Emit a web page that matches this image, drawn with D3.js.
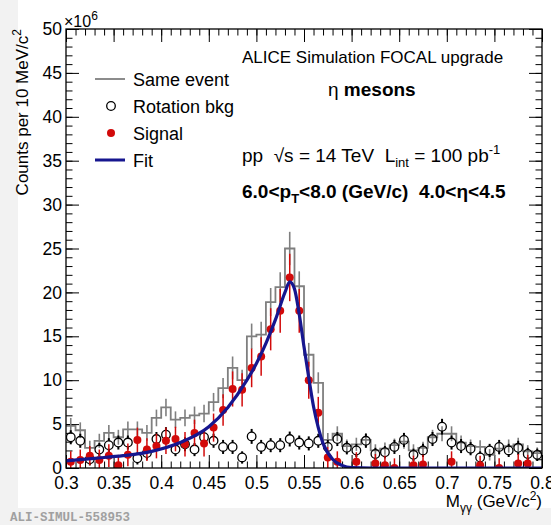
<!DOCTYPE html>
<html>
<head>
<meta charset="utf-8">
<script src="https://cdn.jsdelivr.net/npm/d3@7"></script>
<style>
body { margin: 0; background: #f2f2f2; }
text { font-family: "Liberation Sans", Arial, Helvetica, sans-serif; white-space: pre; }
</style>
</head>
<body>
<svg id="svg" width="551" height="525"></svg>
<script>
// bin lower edges, M_gg in GeV/c^2 (10 MeV bins)
var binLow = [0.30,0.31,0.32,0.33,0.34,0.35,0.36,0.37,0.38,0.39,
              0.40,0.41,0.42,0.43,0.44,0.45,0.46,0.47,0.48,0.49,
              0.50,0.51,0.52,0.53,0.54,0.55,0.56,0.57,0.58,0.59,
              0.60,0.61,0.62,0.63,0.64,0.65,0.66,0.67,0.68,0.69,
              0.70,0.71,0.72,0.73,0.74,0.75,0.76,0.77,0.78,0.79];

// counts x10^6
var sameEvent = [4.8,4.3,2.3,3.1,4.0,3.5,4.4,4.4,4.0,5.7,
                 6.9,5.5,5.7,6.0,6.2,7.5,9.1,11.4,10.0,15.0,
                 15.2,18.9,20.6,25.0,20.7,12.9,9.7,3.2,3.9,2.5,
                 2.7,3.2,2.0,2.2,2.6,3.0,2.0,2.3,3.5,3.9,
                 3.9,2.9,2.5,2.4,1.5,2.2,2.5,2.7,1.9,1.7];
var sameErr = [0.9,0.9,0.8,0.8,0.9,0.85,0.9,0.9,0.9,0.95,
               1.0,0.95,0.95,1.0,1.0,1.05,1.15,1.3,1.2,1.45,
               1.45,1.6,1.7,1.9,1.7,1.35,1.2,0.8,0.85,0.75,
               0.75,0.8,0.7,0.7,0.75,0.8,0.7,0.7,0.85,0.85,
               0.85,0.8,0.75,0.75,0.65,0.7,0.75,0.75,0.7,0.65];

var rotBkg = [3.5,3.1,1.0,2.1,2.6,2.9,2.9,1.1,1.7,3.3,
              3.8,2.1,2.7,2.1,3.5,3.1,2.4,2.4,1.2,3.6,
              2.4,2.6,2.6,3.3,2.9,2.8,3.1,2.4,3.3,2.3,
              2.0,3.1,1.6,1.8,2.4,3.2,1.5,2.0,3.3,4.7,
              2.9,2.5,2.2,1.2,2.0,2.4,2.0,2.3,1.6,1.5];
var rotErr = [0.8,0.8,0.7,0.75,0.8,0.8,0.8,0.7,0.75,0.8,
              0.85,0.75,0.8,0.75,0.8,0.8,0.8,0.8,0.7,0.85,
              0.8,0.8,0.8,0.85,0.8,0.8,0.8,0.8,0.8,0.75,
              0.75,0.8,0.7,0.7,0.8,0.8,0.7,0.75,0.8,0.9,
              0.8,0.8,0.75,0.7,0.75,0.8,0.75,0.8,0.7,0.7];

// null = below the axis, not shown
var signal = [0.7,0.9,1.4,0.9,1.4,0.3,1.5,3.2,2.1,2.5,
              3.1,3.3,2.7,4.0,2.8,4.6,6.6,9.0,8.9,11.4,
              12.7,15.8,17.9,21.7,17.9,10.0,6.3,1.2,0.7,null,
              0.7,null,0.5,0.3,0.0,null,0.3,0.4,null,null,
              0.7,null,null,0.3,null,0.0,null,0.5,0.5,null];
var sigErr = [1.2,1.2,1.1,1.2,1.3,1.2,1.3,1.4,1.3,1.4,
              1.5,1.4,1.4,1.5,1.5,1.6,1.8,2.0,1.9,2.2,
              2.2,2.4,2.5,2.7,2.5,2.1,1.8,1.2,1.2,1.1,
              1.1,1.2,1.1,1.1,1.1,1.2,1.1,1.1,1.2,1.3,
              1.2,1.2,1.1,1.1,1.0,1.1,1.1,1.1,1.0,1.0];

// fit curve
var fitX = [0.30,0.33,0.36,0.39,0.42,0.45,0.47,0.49,0.50,0.51,0.52,0.53,0.535,
            0.54,0.545,0.55,0.555,0.56,0.565,0.57,0.58,0.59,0.60,0.62,0.70,0.80];
var fitY = [0.8,1.1,1.4,1.9,2.9,4.7,6.9,10.0,11.9,14.2,16.9,20.0,21.2,
            20.4,17.5,13.8,10.3,7.0,4.6,2.8,1.0,0.3,0.05,0,0,0];

var xMajor = [0.3,0.35,0.4,0.45,0.5,0.55,0.6,0.65,0.7,0.75,0.8];
var yMajor = [0,5,10,15,20,25,30,35,40,45,50];

var legendNames = ["Same event", "Rotation bkg", "Signal", "Fit"];

var grey = "#7f7f7f", red = "#d20a0a", blue = "#16168f";

var svg = d3.select("#svg");
svg.append("rect").attr("x", 18).attr("y", 0).attr("width", 533).attr("height", 508).attr("fill", "white");

var x = d3.scaleLinear().domain([0.3, 0.8]).range([66, 542]);
var y = d3.scaleLinear().domain([0, 50]).range([468, 29]);

// axes, ticks pointing inwards like ROOT
function minorVals(a, b, step) {
    var out = [];
    for (var v = a; v <= b + 1e-9; v += step) out.push(+v.toFixed(3));
    return out;
}
var xMinor = minorVals(0.3, 0.8, 0.01);
var yMinor = minorVals(0, 50, 1);

function axis(fn, scale, minor, major, fmt, tx, ty) {
    var g = svg.append("g").attr("transform", "translate(" + tx + "," + ty + ")");
    g.append("g").call(fn(scale).tickValues(minor).tickSize(-6.5).tickFormat(""));
    var m = g.append("g").call(fn(scale).tickValues(major).tickSize(-13).tickPadding(fmt ? 9 : 0)
        .tickFormat(fmt || ""));
    g.selectAll(".domain").remove();
    g.selectAll("line").attr("stroke", "black").attr("stroke-width", 1);
    return m;
}
var xb = axis(d3.axisBottom, x, xMinor, xMajor, function(d) { return String(+d.toFixed(2)); }, 0, 468);
xb.selectAll("text").attr("font-size", 17.5).attr("fill", "black");
axis(d3.axisTop, x, xMinor, xMajor, null, 0, 29);
var yl = axis(d3.axisLeft, y, yMinor, yMajor, function(d) { return d; }, 66, 0);
yl.selectAll("text").attr("font-size", 17.5).attr("fill", "black").attr("dx", 5);
axis(d3.axisRight, y, yMinor, yMajor, null, 542, 0);

svg.append("defs").append("clipPath").attr("id", "clip")
    .append("rect").attr("x", 66).attr("y", 29).attr("width", 476).attr("height", 439);
var plot = svg.append("g").attr("clip-path", "url(#clip)");

// same event histogram
var steps = binLow.map(function(b, i) { return [b, sameEvent[i]]; });
steps.push([0.8, sameEvent[sameEvent.length - 1]]);
plot.append("path").datum(steps)
    .attr("d", d3.line().x(function(d) { return x(d[0]); }).y(function(d) { return y(d[1]); }).curve(d3.curveStepAfter))
    .attr("fill", "none").attr("stroke", grey).attr("stroke-width", 1.8);
plot.selectAll(".seerr").data(binLow).enter().append("line")
    .attr("x1", function(d) { return x(d + 0.005); }).attr("x2", function(d) { return x(d + 0.005); })
    .attr("y1", function(d, i) { return y(sameEvent[i] - sameErr[i]); })
    .attr("y2", function(d, i) { return y(sameEvent[i] + sameErr[i]); })
    .attr("stroke", grey).attr("stroke-width", 1.6);

// rotation background
var r = 4.3;
var rot = plot.selectAll(".rot").data(binLow).enter().append("g");
rot.append("line")
    .attr("x1", function(d) { return x(d + 0.005); }).attr("x2", function(d) { return x(d + 0.005); })
    .attr("y1", function(d, i) { return y(rotBkg[i] + rotErr[i]); })
    .attr("y2", function(d, i) { return y(rotBkg[i]) - r; })
    .attr("stroke", "black").attr("stroke-width", 2);
rot.append("line")
    .attr("x1", function(d) { return x(d + 0.005); }).attr("x2", function(d) { return x(d + 0.005); })
    .attr("y1", function(d, i) { return y(rotBkg[i]) + r; })
    .attr("y2", function(d, i) { return y(rotBkg[i] - rotErr[i]); })
    .attr("stroke", "black").attr("stroke-width", 2);
rot.append("circle")
    .attr("cx", function(d) { return x(d + 0.005); })
    .attr("cy", function(d, i) { return y(rotBkg[i]); })
    .attr("r", r).attr("fill", "none").attr("stroke", "black").attr("stroke-width", 1.3);

// signal
var sig = binLow.map(function(b, i) { return { m: b + 0.005, v: signal[i], e: sigErr[i] }; })
    .filter(function(d) { return d.v !== null; });
plot.selectAll(".sigerr").data(sig).enter().append("line")
    .attr("x1", function(d) { return x(d.m); }).attr("x2", function(d) { return x(d.m); })
    .attr("y1", function(d) { return y(d.v - d.e); }).attr("y2", function(d) { return y(d.v + d.e); })
    .attr("stroke", red).attr("stroke-width", 1.5);
plot.selectAll(".sig").data(sig).enter().append("circle")
    .attr("cx", function(d) { return x(d.m); }).attr("cy", function(d) { return y(d.v); })
    .attr("r", 4).attr("fill", red);

// fit
plot.append("path").datum(fitX.map(function(m, i) { return [m, fitY[i]]; }))
    .attr("d", d3.line().x(function(d) { return x(d[0]); }).y(function(d) { return y(d[1]); }).curve(d3.curveMonotoneX))
    .attr("fill", "none").attr("stroke", blue).attr("stroke-width", 3.2);

// frame
svg.append("rect").attr("x", 66).attr("y", 29).attr("width", 476).attr("height", 439)
    .attr("fill", "none").attr("stroke", "black").attr("stroke-width", 1.3);

// exponent
var ex = svg.append("text").attr("x", 64).attr("y", 27).attr("font-size", 16);
ex.append("tspan").text("\u00d710");
ex.append("tspan").attr("dy", -7).attr("font-size", 12).text("6");

// axis titles
var yt = svg.append("text").attr("transform", "translate(28,29) rotate(-90)")
    .attr("text-anchor", "end").attr("font-size", 17);
yt.append("tspan").text("Counts per 10 MeV/c");
yt.append("tspan").attr("dy", -7).attr("font-size", 12).text("2");

var xt = svg.append("text").attr("x", 542).attr("y", 507).attr("text-anchor", "end").attr("font-size", 17);
xt.append("tspan").text("M");
xt.append("tspan").attr("dy", 5).attr("font-size", 12).text("\u03b3\u03b3");
xt.append("tspan").attr("dy", -5).text(" (GeV/c");
xt.append("tspan").attr("dy", -7).attr("font-size", 12).text("2");
xt.append("tspan").attr("dy", 7).text(")");

// legend
var lg = svg.append("g");
var ly = [79, 106, 133, 160];
lg.append("line").attr("x1", 95).attr("x2", 125).attr("y1", ly[0]).attr("y2", ly[0]).attr("stroke", grey).attr("stroke-width", 1.8);
lg.append("circle").attr("cx", 111).attr("cy", ly[1]).attr("r", r).attr("fill", "none").attr("stroke", "black").attr("stroke-width", 1.3);
lg.append("circle").attr("cx", 111).attr("cy", ly[2]).attr("r", 4).attr("fill", red);
lg.append("line").attr("x1", 95).attr("x2", 125).attr("y1", ly[3]).attr("y2", ly[3]).attr("stroke", blue).attr("stroke-width", 3);
lg.selectAll(".lt").data(legendNames).enter().append("text")
    .attr("x", 133).attr("y", function(d, i) { return ly[i] + 6.5; })
    .attr("font-size", 18).text(function(d) { return d; });

// labels
svg.append("text").attr("x", 242).attr("y", 63).attr("font-size", 17).text("ALICE Simulation FOCAL upgrade");

var eta = svg.append("text").attr("x", 328).attr("y", 96).attr("font-size", 19);
eta.append("tspan").text("\u03b7 ");
eta.append("tspan").attr("font-weight", "bold").text("mesons");

var pp = svg.append("text").attr("x", 242).attr("y", 162).attr("font-size", 19);
pp.append("tspan").text("pp  \u221as = 14 TeV  L");
pp.append("tspan").attr("dy", 5).attr("font-size", 13).text("int");
pp.append("tspan").attr("dy", -5).text(" = 100 pb");
pp.append("tspan").attr("dy", -8).attr("font-size", 13).text("-1");

var kin = svg.append("text").attr("x", 242).attr("y", 198).attr("font-size", 19).attr("font-weight", "bold");
kin.append("tspan").text("6.0<p");
kin.append("tspan").attr("dy", 5).attr("font-size", 13).text("T");
kin.append("tspan").attr("dy", -5).text("<8.0 (GeV/c)  4.0<\u03b7<4.5");

// figure id
svg.append("text").attr("x", 10).attr("y", 521).attr("font-size", 12.5)
    .style("font-family", "'Liberation Mono', 'DejaVu Sans Mono', monospace").attr("font-weight", "bold")
    .attr("fill", "#a0a0a0").text("ALI-SIMUL-558953");
</script>
</body>
</html>
